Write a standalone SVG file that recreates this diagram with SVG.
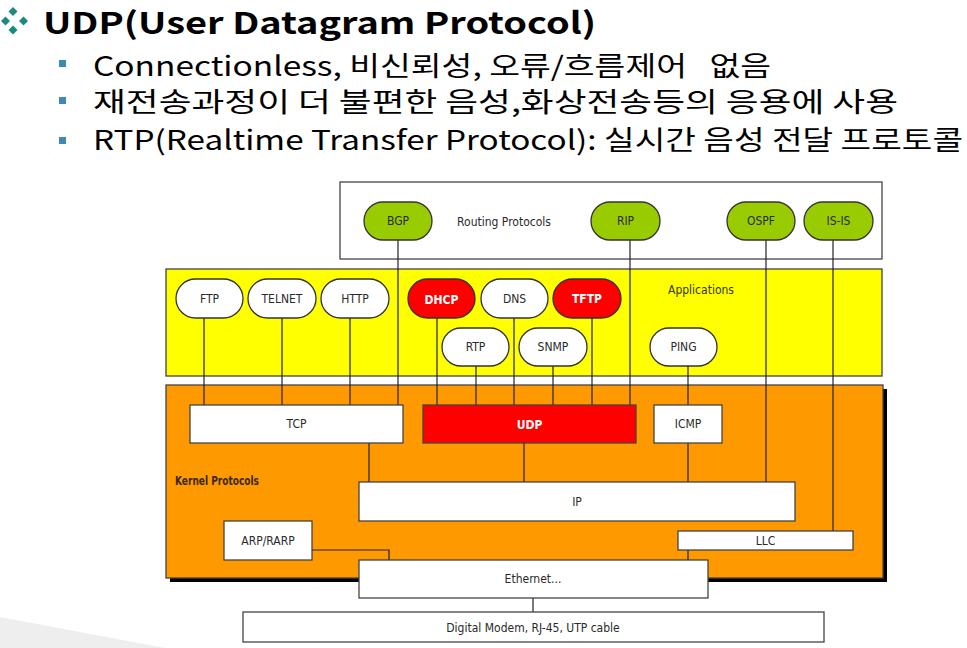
<svg xmlns="http://www.w3.org/2000/svg" width="967" height="648" viewBox="0 0 967 648">
<style>
.kr{font-family:"Noto Sans CJK KR","Liberation Sans",sans-serif;fill:#000}
.lbl{font-family:"DejaVu Sans Condensed","Liberation Sans Narrow","Liberation Sans",sans-serif;font-stretch:condensed;font-size:12px;fill:#2a2a2a;text-anchor:middle}
.pill{stroke:#333;stroke-width:1.3}
.w{fill:#fff}
.g{fill:#99cc00}
.r{fill:#ff0000}
.box{stroke:#444;stroke-width:1.3}
.con{stroke:#222;stroke-width:1.2;fill:none}
.wt{fill:#fff;font-weight:bold}
.bul{fill:#3b8bb5}
.dia{fill:#1a8a80}
</style>
<rect width="967" height="648" fill="#fff"/>
<polygon points="0,617 165,648 0,648" fill="#eeeeee"/>
<g id="title">
<polygon class="dia" points="13,7 17.5,11.5 13,16 8.5,11.5"/>
<polygon class="dia" points="5.5,16.5 10,21 5.5,25.5 1,21"/>
<polygon class="dia" points="23.5,16.5 28,21 23.5,25.5 19,21"/>
<polygon class="dia" points="13,25.5 17.5,30 13,34.5 8.5,30"/>
<text class="kr" x="43" y="34" font-size="30" font-weight="bold" textLength="553" lengthAdjust="spacingAndGlyphs">UDP(User Datagram Protocol)</text>
</g>
<g id="bullets">
<rect class="bul" x="59" y="60" width="7" height="7"/>
<rect class="bul" x="59" y="97" width="7" height="7"/>
<rect class="bul" x="59" y="137" width="7" height="7"/>
<text class="kr" x="93" y="75.5" font-size="27" xml:space="preserve" style="white-space:pre" textLength="678" lengthAdjust="spacingAndGlyphs">Connectionless, 비신뢰성, 오류/흐름제어   없음</text>
<text class="kr" x="93" y="112" font-size="27" textLength="805" lengthAdjust="spacingAndGlyphs">재전송과정이 더 불편한 음성,화상전송등의 응용에 사용</text>
<text class="kr" x="93" y="150" font-size="27" textLength="870" lengthAdjust="spacingAndGlyphs">RTP(Realtime Transfer Protocol): 실시간 음성 전달 프로토콜</text>
</g>
<g id="routing-layer">
<rect class="box" x="340" y="182" width="542" height="77" fill="#fff"/>
<text class="lbl" x="504" y="226">Routing Protocols</text>
</g>
<g id="applications-layer">
<rect class="box" x="166" y="269" width="716" height="107" fill="#ffff00"/>
<text class="lbl" x="701" y="294" style="fill:#333300">Applications</text>
</g>
<g id="kernel-layer">
<rect x="170" y="389" width="717" height="193" fill="#000"/>
<rect class="box" x="166" y="385" width="717" height="193" fill="#ff9900"/>
<text class="lbl" x="175" y="485" font-weight="bold" style="fill:#3a2800;text-anchor:start" textLength="84" lengthAdjust="spacingAndGlyphs">Kernel Protocols</text>
</g>
<g id="connectors" class="con">
<line x1="204" y1="318" x2="204" y2="405"/>
<line x1="282" y1="318" x2="282" y2="405"/>
<line x1="350" y1="318" x2="350" y2="405"/>
<line x1="398" y1="240" x2="398" y2="405"/>
<line x1="437" y1="318" x2="437" y2="405"/>
<line x1="476" y1="366" x2="476" y2="405"/>
<line x1="514" y1="318" x2="514" y2="405"/>
<line x1="553" y1="366" x2="553" y2="405"/>
<line x1="592" y1="318" x2="592" y2="405"/>
<line x1="630" y1="240" x2="630" y2="405"/>
<line x1="688" y1="366" x2="688" y2="405"/>
<line x1="766" y1="240" x2="766" y2="482"/>
<line x1="833" y1="240" x2="833" y2="531"/>
<line x1="369" y1="443" x2="369" y2="482"/>
<line x1="524" y1="443" x2="524" y2="482"/>
<line x1="688" y1="443" x2="688" y2="482"/>
<polyline points="312,550 389,550 389,560"/>
<line x1="688" y1="550" x2="688" y2="560"/>
<line x1="533" y1="598" x2="533" y2="612"/>
</g>
<g id="BGP"><rect class="pill g" x="364" y="202" width="68" height="38" rx="19"/><text class="lbl" x="398" y="225">BGP</text></g>
<g id="RIP"><rect class="pill g" x="591" y="202" width="69" height="38" rx="19"/><text class="lbl" x="625.5" y="225">RIP</text></g>
<g id="OSPF"><rect class="pill g" x="727" y="202" width="68" height="38" rx="19"/><text class="lbl" x="761" y="225">OSPF</text></g>
<g id="IS-IS"><rect class="pill g" x="804" y="202" width="69" height="38" rx="19"/><text class="lbl" x="838.5" y="225">IS-IS</text></g>
<g id="FTP"><rect class="pill w" x="176" y="279" width="67" height="39" rx="19.5"/><text class="lbl" x="209.5" y="302.5">FTP</text></g>
<g id="TELNET"><rect class="pill w" x="248" y="279" width="68" height="39" rx="19.5"/><text class="lbl" x="282" y="302.5">TELNET</text></g>
<g id="HTTP"><rect class="pill w" x="321" y="279" width="68" height="39" rx="19.5"/><text class="lbl" x="355" y="302.5">HTTP</text></g>
<g id="DHCP"><rect class="pill r" x="408" y="279" width="67" height="39" rx="19.5"/><text class="lbl wt" x="441.5" y="304" font-size="16">DHCP</text></g>
<g id="DNS"><rect class="pill w" x="481" y="279" width="67" height="39" rx="19.5"/><text class="lbl" x="514.5" y="302.5">DNS</text></g>
<g id="TFTP"><rect class="pill r" x="553" y="279" width="68" height="39" rx="19.5"/><text class="lbl wt" x="587" y="302.5" font-size="12">TFTP</text></g>
<g id="RTP"><rect class="pill w" x="442" y="328" width="67" height="38" rx="19"/><text class="lbl" x="475.5" y="351">RTP</text></g>
<g id="SNMP"><rect class="pill w" x="519" y="328" width="68" height="38" rx="19"/><text class="lbl" x="553" y="351">SNMP</text></g>
<g id="PING"><rect class="pill w" x="650" y="328" width="67" height="38" rx="19"/><text class="lbl" x="683.5" y="351">PING</text></g>
<g id="TCP"><rect class="box w" x="190" y="405" width="213" height="38"/><text class="lbl" x="296.5" y="428">TCP</text></g>
<g id="UDP"><rect class="box r" x="423" y="405" width="213" height="38"/><text class="lbl wt" x="529.5" y="428.5" font-size="13">UDP</text></g>
<g id="ICMP"><rect class="box w" x="654" y="405" width="68" height="38"/><text class="lbl" x="688" y="428">ICMP</text></g>
<g id="IP"><rect class="box w" x="359" y="482" width="436" height="39"/><text class="lbl" x="577" y="505.5">IP</text></g>
<g id="ARP-RARP"><rect class="box w" x="224" y="521" width="88" height="39"/><text class="lbl" x="268" y="544.5">ARP/RARP</text></g>
<g id="LLC"><rect class="box w" x="678" y="531" width="175" height="19"/><text class="lbl" x="765.5" y="545">LLC</text></g>
<g id="Ethernet"><rect class="box w" x="359" y="560" width="349" height="38"/><text class="lbl" x="533" y="583">Ethernet...</text></g>
<g id="Digital-Modem"><rect class="box w" x="243" y="612" width="581" height="30"/><text class="lbl" x="533" y="631.5">Digital Modem, RJ-45, UTP cable</text></g>
</svg>
